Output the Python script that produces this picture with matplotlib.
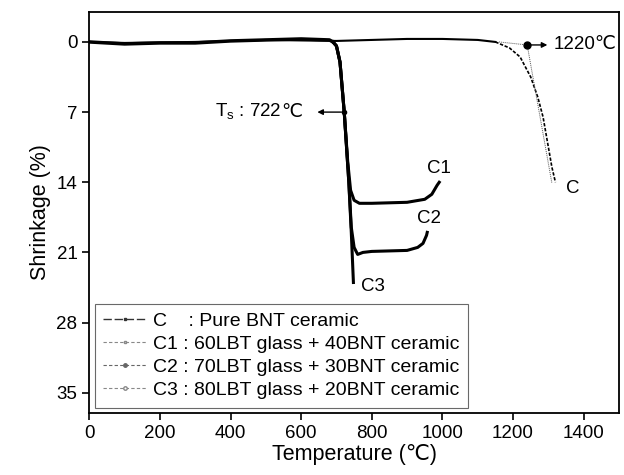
import matplotlib
matplotlib.use("Agg")
import matplotlib.pyplot as plt
from matplotlib.lines import Line2D

plt.rcParams['font.family'] = ['Liberation Sans', 'DejaVu Sans']

# shared baseline of glass samples before softening
base_T = [0, 50, 100, 200, 300, 400, 500, 600, 680, 690]
base_S = [0, 0.1, 0.2, 0.1, 0.1, -0.1, -0.2, -0.3, -0.2, 0]

# C1 : 60LBT glass + 40BNT ceramic
c1_T = [690, 700, 710, 722, 732, 740, 750, 765, 800, 900, 950, 970, 985, 991]
c1_S = [0, 0.4, 2, 7, 12, 14.8, 15.8, 16.1, 16.1, 16.0, 15.7, 15.2, 14.3, 14.0]

# C2 : 70LBT glass + 30BNT ceramic
c2_T = [690, 700, 710, 722, 735, 742, 750, 760, 775, 800, 900, 930, 945, 955, 957]
c2_S = [0, 0.4, 2, 7, 14, 18.5, 20.5, 21.2, 21.0, 20.9, 20.8, 20.5, 20.1, 19.3, 19.0]

# C3 : 80LBT glass + 20BNT ceramic
c3_T = [690, 700, 710, 722, 735, 742, 748]
c3_S = [0, 0.4, 2, 7, 14, 19, 24]

# C : pure BNT ceramic
c_T = [0, 100, 300, 500, 700, 800, 900, 1000, 1100, 1150, 1190, 1220, 1250, 1270, 1285, 1300, 1310, 1320]
c_S = [0, 0.1, 0, -0.2, -0.1, -0.2, -0.3, -0.3, -0.2, 0, 0.6, 1.5, 3.5, 5.5, 7.5, 10.5, 12.5, 14]

# onset construction for C
tan_T = [1160, 1240, 1310]
tan_S = [0, 0.3, 14.1]

fig = plt.figure(figsize=(6.24, 4.75), dpi=100)
ax = fig.add_axes([0.143, 0.131, 0.849, 0.844])

ax.plot(base_T, base_S, color='black', lw=2.5)
ax.plot(c1_T, c1_S, color='black', lw=2.2)
ax.plot(c2_T, c2_S, color='black', lw=2.2)
ax.plot(c3_T, c3_S, color='black', lw=2.2)

split = 9
ax.plot(c_T[:split + 1], c_S[:split + 1], color='black', lw=1.5)
ax.plot(c_T[split:], c_S[split:], color='black', lw=1.2, ls=(0, (2, 1)))
ax.plot(tan_T, tan_S, color='#555555', lw=0.7, ls=(0, (1, 1)))
ax.plot(tan_T[1], tan_S[1], 'o', color='black', ms=5)

fs = 13.5
# annotations
ax.annotate('', xy=(1305, 0.3), xytext=(1240, 0.3),
            arrowprops=dict(arrowstyle='-|>', color='black', lw=1, mutation_scale=8))
ax.text(1314, 0.3, '1220\u2103', fontsize=fs, va='center', ha='left')

ax.plot(722, 7, 'o', color='black', ms=3)
ax.annotate('', xy=(638, 7), xytext=(722, 7),
            arrowprops=dict(arrowstyle='-|>', color='black', lw=1, mutation_scale=8))
ax.text(603, 7, '\u2103', fontsize=fs, va='center', ha='right')
ax.annotate(r'T$_\mathregular{s}$ : 722', xy=(603, 7), xytext=(-fs * 1.1, 0),
            textcoords='offset points', fontsize=fs, va='center', ha='right')

ax.text(990, 12.6, 'C1', fontsize=fs, ha='center', va='center')
ax.text(962, 17.6, 'C2', fontsize=fs, ha='center', va='center')
ax.text(802, 24.4, 'C3', fontsize=fs, ha='center', va='center')
ax.text(1368, 14.6, 'C', fontsize=fs, ha='center', va='center')

ax.set_xlim(0, 1500)
ax.set_ylim(37, -3)
ax.set_xticks([0, 200, 400, 600, 800, 1000, 1200, 1400])
ax.set_yticks([0, 7, 14, 21, 28, 35])
ax.tick_params(direction='out', length=5, width=1.2, labelsize=fs)
for s in ax.spines.values():
    s.set_linewidth(1.3)

ax.set_xlabel('Temperature (\u2103)', fontsize=15.5, labelpad=2)
ax.set_ylabel('Shrinkage (%)', fontsize=15.5)

handles = [
    Line2D([], [], color='#333333', lw=1, ls=(0, (6, 2)), marker='s', ms=2),
    Line2D([], [], color='#888888', lw=0.8, ls=(0, (3, 2)), marker='s', ms=2, mfc='white'),
    Line2D([], [], color='#666666', lw=0.8, ls=(0, (3, 2)), marker='o', ms=2.5),
    Line2D([], [], color='#888888', lw=0.8, ls=(0, (3, 2)), marker='o', ms=2.5, mfc='white'),
]
labels = [
    'C    : Pure BNT ceramic',
    'C1 : 60LBT glass + 40BNT ceramic',
    'C2 : 70LBT glass + 30BNT ceramic',
    'C3 : 80LBT glass + 20BNT ceramic',
]
leg = ax.legend(handles, labels, loc='lower left', bbox_to_anchor=(0.01, 0.012),
                borderaxespad=0, fontsize=14, numpoints=1, fancybox=False,
                edgecolor='#444444', handlelength=2.2, handletextpad=0.35,
                labelspacing=0.28, borderpad=0.45)
leg.get_frame().set_linewidth(0.8)

fig.savefig('out.png', dpi=100)
